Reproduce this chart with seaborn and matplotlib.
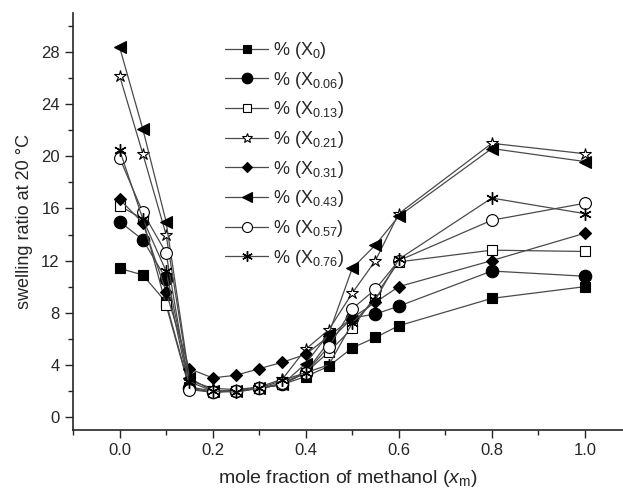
import pandas as pd
import seaborn as sns
import matplotlib.pyplot as plt
from matplotlib.ticker import MultipleLocator

# mole fraction of methanol
xm = [0.0, 0.05, 0.1, 0.15, 0.2, 0.25, 0.3, 0.35, 0.4, 0.45, 0.5, 0.55, 0.6, 0.8, 1.0]

# swelling ratio per gel composition
x_000 = [11.4, 10.9, 8.8, 2.3, 2.0, 2.0, 2.2, 2.5, 3.1, 3.9, 5.3, 6.1, 7.0, 9.1, 10.0]
x_006 = [15.0, 13.6, 10.6, 2.2, 1.9, 2.0, 2.2, 2.5, 3.4, 5.8, 7.6, 7.9, 8.5, 11.2, 10.8]
x_013 = [16.2, 15.2, 8.6, 2.2, 1.9, 2.0, 2.2, 2.5, 3.4, 5.0, 6.8, 9.3, 11.9, 12.8, 12.7]
x_021 = [26.2, 20.2, 14.0, 2.8, 2.2, 2.1, 2.3, 2.9, 5.2, 6.7, 9.5, 12.0, 15.6, 21.0, 20.2]
x_031 = [16.7, 14.9, 9.6, 3.7, 3.0, 3.2, 3.7, 4.2, 4.8, 6.2, 7.6, 8.8, 10.0, 12.0, 14.1]
x_043 = [28.4, 22.1, 15.0, 3.0, 2.0, 2.0, 2.2, 2.5, 4.1, 6.4, 11.4, 13.2, 15.4, 20.6, 19.6]
x_057 = [19.9, 15.7, 12.6, 2.1, 1.9, 2.0, 2.2, 2.6, 3.4, 5.4, 8.3, 9.8, 12.0, 15.1, 16.4]
x_076 = [20.5, 15.2, 11.2, 2.7, 2.0, 1.9, 2.2, 2.8, 3.4, 4.0, 7.2, 9.0, 12.1, 16.8, 15.6]

series = [x_000, x_006, x_013, x_021, x_031, x_043, x_057, x_076]
labels = [r'% (X$_{0}$)', r'% (X$_{0.06}$)', r'% (X$_{0.13}$)', r'% (X$_{0.21}$)',
          r'% (X$_{0.31}$)', r'% (X$_{0.43}$)', r'% (X$_{0.57}$)', r'% (X$_{0.76}$)']

# marker, filled?, size
styles = [('s', True, 6.5), ('o', True, 9), ('s', False, 7), ('*', False, 9),
          ('D', True, 6.5), ('<', True, 8), ('o', False, 8.5), ((6, 2, 0), True, 9)]

sns.set_style('ticks')
plt.rcParams['font.family'] = ['Liberation Sans', 'DejaVu Sans']
plt.rcParams['mathtext.fontset'] = 'custom'
plt.rcParams['mathtext.rm'] = 'Liberation Sans'
plt.rcParams['mathtext.it'] = 'Liberation Sans:italic'

fig, ax = plt.subplots(figsize=(6.23, 4.93), dpi=100)
fig.subplots_adjust(left=73 / 623, right=1.0, bottom=1 - 430 / 493, top=1 - 13 / 493)

for vals, lab, (m, filled, ms) in zip(series, labels, styles):
    df = pd.DataFrame({'x': xm, 'y': vals})
    sns.lineplot(data=df, x='x', y='y', ax=ax, color='#4a4a4a', linewidth=0.9,
                 marker=m, markersize=ms,
                 markerfacecolor='black' if filled else 'white',
                 markeredgecolor='black',
                 markeredgewidth=1.0 if isinstance(m, tuple) else 0.8,
                 label=lab)

ax.set_xlim(-0.1, 1.082)
ax.set_ylim(-1, 31)
ax.xaxis.set_major_locator(MultipleLocator(0.2))
ax.xaxis.set_minor_locator(MultipleLocator(0.1))
ax.yaxis.set_major_locator(MultipleLocator(4))
ax.yaxis.set_minor_locator(MultipleLocator(2))
ax.tick_params(which='major', length=6, width=1, labelsize=12, direction='out')
ax.tick_params(which='minor', length=3.5, width=1, direction='out')
for s in ['left', 'bottom']:
    ax.spines[s].set_linewidth(1.2)
sns.despine(ax=ax)

ax.set_xlabel(r'mole fraction of methanol ($x_\mathregular{m}$)', fontsize=14, labelpad=7)
ax.set_ylabel('swelling ratio at 20 °C', fontsize=13, labelpad=6)

ax.legend(loc='upper left', bbox_to_anchor=(216 / 623, 1 - 31 / 493),
          bbox_transform=fig.transFigure, frameon=False, fontsize=13,
          handlelength=2.4, handletextpad=0.25, labelspacing=0.48, borderpad=0,
          markerscale=0.85)

fig.savefig('out.png', dpi=100)
